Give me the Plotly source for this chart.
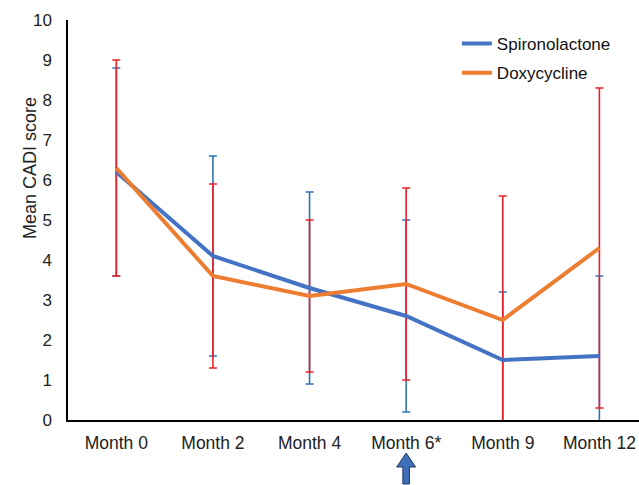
import plotly.graph_objects as go

categories = ["Month 0", "Month 2", "Month 4", "Month 6*", "Month 9", "Month 12"]
spiro = [6.2, 4.1, 3.3, 2.6, 1.5, 1.6]
spiro_err = [2.6, 2.5, 2.4, 2.4, 1.7, 2.0]
doxy = [6.3, 3.6, 3.1, 3.4, 2.5, 4.3]
doxy_err = [2.7, 2.3, 1.9, 2.4, 3.1, 4.0]
y_ticks = list(range(0, 11))

FONT = "Liberation Sans, Arial, sans-serif"
BLUE_LINE = "#4472C4"
ORANGE_LINE = "#ED7D31"
BLUE_ERR = "#2E75B6"
RED_ERR = "#E8202A"

fig = go.Figure()

# error bars (beneath the lines)
fig.add_trace(go.Scatter(
    x=categories, y=spiro, mode="markers",
    marker=dict(size=1, color="rgba(0,0,0,0)"),
    error_y=dict(type="data", array=spiro_err, color=BLUE_ERR, thickness=1.6, width=4),
    showlegend=False, hoverinfo="skip"))
fig.add_trace(go.Scatter(
    x=categories, y=doxy, mode="markers",
    marker=dict(size=1, color="rgba(0,0,0,0)"),
    error_y=dict(type="data", array=doxy_err, color=RED_ERR, thickness=1.6, width=4),
    showlegend=False, hoverinfo="skip"))

# lines
fig.add_trace(go.Scatter(
    x=categories, y=spiro, mode="lines", name="Spironolactone",
    line=dict(color=BLUE_LINE, width=4), legendgroup="a"))
fig.add_trace(go.Scatter(
    x=categories, y=doxy, mode="lines", name="Doxycycline",
    line=dict(color=ORANGE_LINE, width=4), legendgroup="b"))

# block arrow under "Month 6*"
ci = categories.index("Month 6*")
hw, sw = 0.098, 0.034
y_tip, y_neck, y_base = -0.0825, -0.1175, -0.16
path = (f"M {ci} {y_tip} L {ci + hw} {y_neck} L {ci + sw} {y_neck} "
        f"L {ci + sw} {y_base} L {ci - sw} {y_base} L {ci - sw} {y_neck} "
        f"L {ci - hw} {y_neck} Z")
fig.add_shape(type="path", xref="x", yref="paper", path=path,
              fillcolor="#3E6FB8", line=dict(color="#1F3864", width=1))

fig.add_annotation(text="Mean CADI score", xref="paper", yref="paper",
                   x=-0.0876, y=0.63, textangle=-90, showarrow=False,
                   font=dict(family=FONT, size=18, color="#222222"))

fig.update_layout(
    width=639, height=485,
    margin=dict(l=68, r=0, t=20, b=65),
    paper_bgcolor="white", plot_bgcolor="white",
    font=dict(family=FONT, size=17, color="#222222"),
    legend=dict(x=0.681, y=0.985, xanchor="left", yanchor="top",
                bgcolor="rgba(0,0,0,0)", tracegroupgap=4,
                font=dict(family=FONT, size=17, color="#111111")),
    xaxis=dict(range=[-0.5, 5.41], showline=True, linecolor="black", linewidth=1.5,
               showgrid=False, zeroline=False, ticks="", ticklabelstandoff=6,
               tickfont=dict(size=17.5),
               categoryorder="array", categoryarray=categories),
    yaxis=dict(range=[0, 10], tickvals=y_ticks, showline=True, linecolor="black",
               linewidth=1.5, showgrid=False, zeroline=False, ticks="",
               ticklabelstandoff=11),
)

fig.write_html(
    "out.html",
    config={"displayModeBar": False},
    post_script="document.body.style.margin='0';document.body.style.overflow='hidden';",
)
